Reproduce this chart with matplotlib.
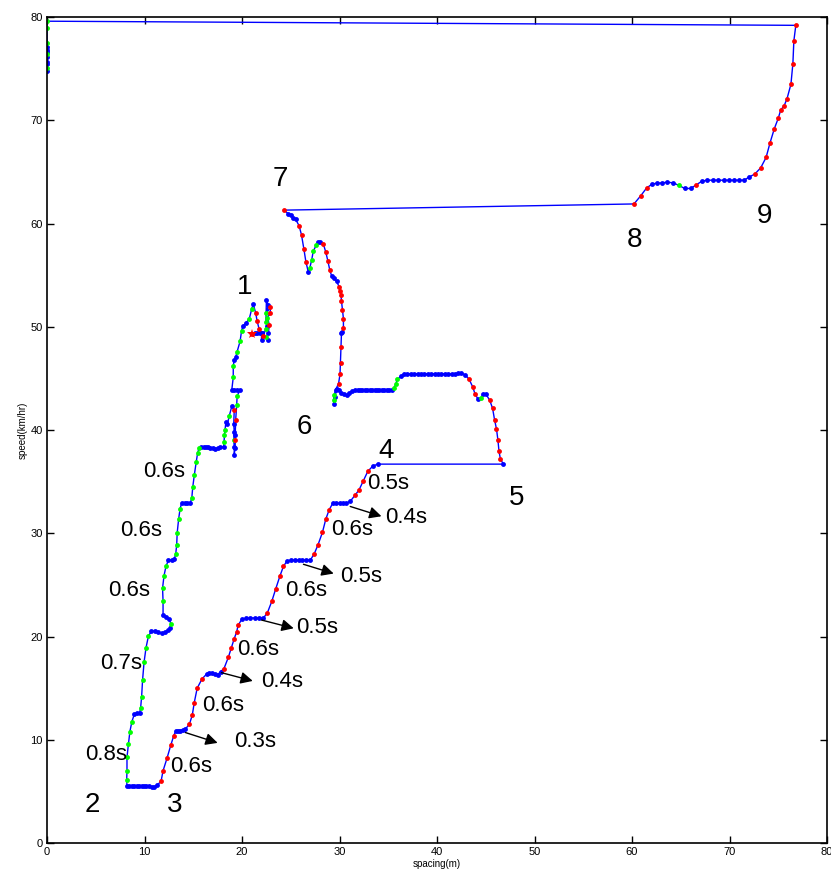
import numpy as np
import matplotlib
matplotlib.use('Agg')
import matplotlib.pyplot as plt

plt.rcParams['font.family'] = ['Liberation Sans', 'DejaVu Sans']

# trajectory: spacing (m), speed (km/hr), marker colour code per point
spacing = [
    # x = 0 column
    0, 0, 0, 0, 0, 0, 0, 0, 0, 0, 0, 0,
    # 9 -> 8
    76.8, 76.6, 76.5, 76.3, 75.9, 75.6, 75.25, 75.0, 74.6, 74.15, 73.75, 73.2, 72.6,
    72.0, 71.5, 71.0, 70.5, 69.95, 69.4, 68.8, 68.3, 67.7, 67.15, 66.6, 66.0, 65.4,
    64.8, 64.2, 63.6, 63.1, 62.6, 62.1, 61.5, 60.9, 60.2,
    # 7 -> 6
    24.3, 24.75, 25.0, 25.25, 25.5, 25.85, 26.1, 26.35, 26.55, 26.8, 26.95, 27.15,
    27.3, 27.6, 27.8, 28.0, 28.35, 28.6, 28.8, 29.0, 29.2, 29.4, 29.7, 29.95, 30.05,
    30.15, 30.2, 30.3, 30.4, 30.4, 30.3, 30.2, 30.15, 30.1, 30.05, 29.9, 29.6, 29.45,
    29.4, 29.4, 29.55, 29.7,
    # 6 -> 5
    29.9, 30.2, 30.5, 30.75, 31.0, 31.3, 31.6, 31.85, 32.1, 32.35, 32.6, 32.85, 33.1,
    33.35, 33.6, 33.85, 34.1, 34.35, 34.6, 34.85, 35.1, 35.35, 35.6, 35.8, 35.9, 36.3,
    36.6, 36.95, 37.3, 37.65, 38.0, 38.35, 38.7, 39.05, 39.4, 39.75, 40.1, 40.45,
    40.8, 41.15, 41.5, 41.85, 42.2, 42.5, 42.9, 43.3, 43.65, 43.9, 44.2, 44.5, 44.75,
    45.0, 45.4, 45.7, 45.9, 46.1, 46.25, 46.35, 46.5, 46.8,
    # 4 -> 3
    33.9, 33.4, 32.9, 32.45, 32.0, 31.6, 31.1, 30.7, 30.35, 30.0, 29.65, 29.3, 28.95,
    28.6, 28.25, 27.8, 27.4, 27.0, 26.6, 26.2, 25.8, 25.4, 25.0, 24.6, 24.25, 23.9,
    23.45, 23.05, 22.6, 22.2, 21.75, 21.3, 20.85, 20.4, 20.0, 19.6, 19.45, 19.2, 18.9,
    18.6, 18.15, 17.8, 17.5, 17.2, 16.9, 16.65, 16.4, 15.9, 15.4, 15.1, 14.9, 14.6,
    14.15, 13.9, 13.6, 13.4, 13.2, 13.0, 12.7, 12.3, 11.9, 11.7, 11.3,
    # 3 -> 2
    11.0, 10.8, 10.5, 10.2, 9.95, 9.7, 9.45, 9.2, 8.95, 8.7, 8.45, 8.2,
    # 2 -> 1
    8.17, 8.2, 8.2, 8.35, 8.5, 8.7, 8.96, 9.2, 9.5, 9.6, 9.7, 9.8, 9.95, 10.15, 10.4,
    10.7, 11.1, 11.4, 11.75, 12.1, 12.45, 12.6, 12.7, 12.55, 12.2, 11.9, 11.9, 11.85,
    12.0, 12.2, 12.45, 12.8, 13.05, 13.2, 13.3, 13.35, 13.5, 13.65, 13.8, 14.1, 14.35,
    14.7, 14.85, 14.95, 15.1, 15.3, 15.45, 15.6, 15.8, 16.05, 16.3, 16.5, 16.75, 17.0,
    17.25, 17.5, 17.75, 18.1, 18.15, 18.2, 18.25, 18.35, 18.5, 18.7, 18.95, 19.2,
    19.15, 19.2, 19.15, 19.2, 19.2, 19.3, 19.3, 19.3, 19.35, 19.45, 19.5, 19.8, 19.5,
    19.2, 18.95, 19.1, 19.1, 19.2, 19.35, 19.5, 19.8, 19.95, 20.1, 20.4, 20.75, 21.0,
    21.15, 21.4, 21.55, 21.75, 22.0, 22.0, 22.45, 22.6, 22.45, 22.5, 22.7, 22.5, 22.9,
    22.9, 22.6, 22.8, 22.7, 22.5, 22.7, 22.2, 22.0, 21.8, 21.5, 21.3, 21.0,
]
speed = [
    74.8, 75.06, 75.5, 75.67, 76.1, 76.4, 76.6, 76.8, 77.1, 77.5, 78.9, 79.6,
    79.2, 77.7, 75.5, 73.5, 72.1, 71.4, 71.0, 70.2, 69.2, 67.8, 66.4, 65.4, 64.8,
    64.5, 64.2, 64.2, 64.2, 64.2, 64.2, 64.2, 64.2, 64.2, 64.1, 63.75, 63.4, 63.4,
    63.7, 63.95, 64.0, 63.95, 63.9, 63.85, 63.45, 62.7, 61.9,
    61.3, 60.95, 60.8, 60.55, 60.4, 59.8, 58.9, 57.5, 56.3, 55.3, 55.7, 56.5,
    57.3, 57.9, 58.2, 58.2, 58.0, 57.2, 56.4, 55.5, 54.9, 54.7, 54.4, 53.9, 53.5,
    53.05, 52.5, 51.65, 50.8, 49.9, 49.5, 49.4, 48.0, 46.5, 45.4, 44.5, 43.9, 43.4,
    42.95, 42.5, 43.2, 44.0,
    43.9, 43.6, 43.45, 43.4, 43.6, 43.8, 43.85, 43.9, 43.9, 43.9, 43.9, 43.9, 43.9,
    43.9, 43.9, 43.9, 43.9, 43.9, 43.9, 43.9, 43.9, 43.9, 44.1, 44.5, 44.9, 45.2,
    45.45, 45.45, 45.45, 45.45, 45.45, 45.45, 45.45, 45.45, 45.45, 45.45, 45.45, 45.45,
    45.45, 45.45, 45.45, 45.45, 45.5, 45.5, 45.35, 44.9, 44.2, 43.5, 43.0, 43.1, 43.5,
    43.5, 42.9, 42.1, 41.0, 40.1, 39.0, 38.0, 37.2, 36.7,
    36.7, 36.5, 36.0, 35.1, 34.2, 33.7, 33.1, 32.9, 32.9, 32.9, 32.9, 32.9, 32.3,
    31.4, 30.1, 28.9, 28.0, 27.4, 27.4, 27.4, 27.4, 27.4, 27.4, 27.3, 26.8, 25.9,
    24.6, 23.4, 22.3, 21.8, 21.8, 21.8, 21.8, 21.75, 21.7, 21.1, 20.45, 19.8, 18.9,
    18.0, 16.9, 16.6, 16.3, 16.35, 16.45, 16.45, 16.4, 15.9, 15.0, 13.6, 12.4, 11.5,
    11.0, 10.95, 10.9, 10.9, 10.85, 10.4, 9.5, 8.2, 7.0, 6.0, 5.6,
    5.45, 5.4, 5.5, 5.5, 5.5, 5.5, 5.5, 5.5, 5.5, 5.5, 5.5, 5.5,
    6.1, 7.0, 8.3, 9.6, 10.8, 11.75, 12.5, 12.6, 12.6, 13.1, 14.15, 15.8, 17.5, 18.9, 20.05,
    20.5, 20.55, 20.45, 20.3, 20.45, 20.6, 20.8, 21.2, 21.7, 21.9, 22.05, 23.4, 24.7,
    25.9, 26.8, 27.4, 27.4, 27.5, 28.0, 28.9, 30.05, 31.4, 32.4, 32.9, 32.9, 32.9,
    32.95, 33.45, 34.5, 35.6, 36.9, 37.8, 38.25, 38.35, 38.35, 38.35, 38.35, 38.3, 38.25,
    38.2, 38.25, 38.35, 38.35, 38.8, 39.5, 40.0, 40.8, 40.6, 41.4, 42.3, 41.9,
    40.6, 39.8, 39.0, 38.4, 37.6, 38.3, 39.0, 39.5, 41.0, 42.4, 43.3, 43.9, 43.9,
    43.9, 43.9, 45.1, 46.2, 46.8, 47.05, 47.6, 48.6, 49.6, 50.1, 50.35, 50.8, 51.75,
    52.2, 51.35, 50.55, 49.8, 49.4, 48.75, 49.8, 50.05, 50.5, 52.6, 52.1, 51.3, 51.9,
    51.3, 50.9, 50.2, 49.4, 49.05, 48.7, 49.1, 49.4, 49.4, 49.4, 49.4, 49.3,
]
phase = (
    'bgbbbgbbbggg'
    'rrrrrrrrrrrrr' 'bbbbbbbbbbrbb' 'gbbbbbrrr'
    'rbbbbrrrrbgg' 'ggbbrrrrbbbrr' 'rrrrrbbrrrrbg' 'gbbb'
    'bbbbbbbbbbbbb' 'bbbbbbbbbgggb' 'bbbbbbbbbbbb' 'bbbbbbbrrrbgb' 'brrrrrrrb'
    'bbrrrrbbbbbbr' 'rrrrbbbbbbbrr' 'rrrbbbbbbrrrr' 'rrbbbbbbrrrrr' 'bbbbbrrrrrb'
    'bbbbbbbbbbbb'
    'ggggggbbbgggggg' 'bbbbbbbgbbbgg' 'ggbbbgggggbbb' 'bggggggbbbbbb' 'bbbbgggbbgbr'
    'bbgbbbrbrggbb' 'bbggbbgggbbgg' 'brrrbbgbgbbgr' 'rgrbgbrbbbbr'
)

# text labels
point_labels = ['1', '2', '3', '4', '5', '6', '7', '8', '9']
point_x = [20.3, 4.6, 13.1, 34.8, 48.2, 26.4, 23.9, 60.3, 73.6]
point_y = [53.9, 3.7, 3.7, 38.0, 33.4, 40.3, 64.3, 58.4, 60.7]

gap_labels = ['0.8s', '0.7s', '0.6s', '0.6s', '0.6s',
              '0.6s', '0.6s', '0.6s', '0.6s', '0.6s', '0.5s']
gap_x = [6.1, 7.6, 8.4, 9.6, 12.0, 14.8, 18.1, 21.6, 26.6, 31.3, 35.0]
gap_y = [8.6, 17.4, 24.5, 30.3, 36.0, 7.45, 13.3, 18.7, 24.5, 30.35, 34.85]

arrow_labels = ['0.3s', '0.4s', '0.5s', '0.5s', '0.4s']
arrow_text_x = [21.3, 24.15, 27.7, 32.2, 36.8]
arrow_text_y = [9.8, 15.6, 20.9, 25.8, 31.5]
arrow_from_x = [14.2, 17.9, 22.0, 26.3, 31.1]
arrow_from_y = [10.7, 16.5, 21.6, 27.0, 32.6]
arrow_to_x = [17.5, 21.1, 25.3, 29.4, 34.3]
arrow_to_y = [9.7, 15.7, 20.8, 26.1, 31.65]

x = np.array(spacing)
y = np.array(speed)
codes = np.array(list(phase))

fig = plt.figure(figsize=(8.31, 8.8), dpi=100)
ax = fig.add_axes([0.0566, 0.042, 0.9386, 0.9386])

ax.plot(x, y, '-', color=(0, 0, 1), lw=1)
cols = {'b': (0, 0, 1), 'g': (0, 1, 0), 'r': (1, 0, 0)}
for c in ['b', 'g', 'r']:
    m = codes == c
    ax.plot(x[m], y[m], 'o', color=cols[c], ms=3.5, mew=0)
ax.plot(x[-1], y[-1], '*', color='r', ms=7, mew=0)

for t, px, py in zip(point_labels, point_x, point_y):
    ax.text(px, py, t, fontsize=20, ha='center', va='center')
for t, px, py in zip(gap_labels, gap_x, gap_y):
    ax.text(px, py, t, fontsize=16, ha='center', va='center')
for t, tx, ty, fx, fy, ex, ey in zip(arrow_labels, arrow_text_x, arrow_text_y,
                                     arrow_from_x, arrow_from_y, arrow_to_x, arrow_to_y):
    ax.annotate('', xy=(ex, ey), xytext=(fx, fy),
                arrowprops=dict(arrowstyle='-|>', color='k', lw=1, mutation_scale=18,
                                shrinkA=0, shrinkB=0))
    ax.text(tx, ty, t, fontsize=16, ha='center', va='center')

ax.set_xlim(0, 80)
ax.set_ylim(0, 80)
ax.set_xticks(np.arange(0, 81, 10))
ax.set_yticks(np.arange(0, 81, 10))
ax.tick_params(direction='in', top=True, right=True, length=5, width=1, labelsize=8, pad=3)
for s in ax.spines.values():
    s.set_linewidth(1.2)
ax.set_xlabel('spacing(m)', fontsize=7, labelpad=1)
ax.set_ylabel('speed(km/hr)', fontsize=7, labelpad=2)

fig.savefig('out.png', dpi=100)
